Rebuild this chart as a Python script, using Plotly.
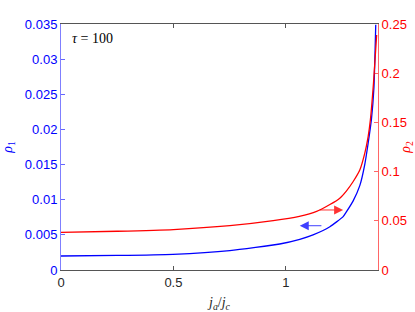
import plotly.graph_objects as go

# ---- data ----
x_blue = [0.0, 0.25, 0.498, 0.751, 0.973, 1.062, 1.121, 1.196, 1.255, 1.27, 1.299, 1.329, 1.351, 1.366, 1.381, 1.392, 1.40]
rho1 = [0.00199, 0.00207, 0.00223, 0.00275, 0.0037, 0.00437, 0.0050, 0.00616, 0.0076, 0.0083, 0.0098, 0.0120, 0.0150, 0.0180, 0.0215, 0.0260, 0.0349]

x_red = [0.0, 0.25, 0.5, 0.751, 0.944, 1.06, 1.137, 1.196, 1.24, 1.27, 1.299, 1.329, 1.351, 1.366, 1.376, 1.39, 1.404]
rho2 = [0.0383, 0.0394, 0.0411, 0.045, 0.0501, 0.0545, 0.0595, 0.0665, 0.0730, 0.0805, 0.0897, 0.1016, 0.1186, 0.1354, 0.1524, 0.19, 0.2388]

y1_ticks = [0, 0.005, 0.01, 0.015, 0.02, 0.025, 0.03, 0.035]
y1_labels = ["0", "0.005", "0.01", "0.015", "0.02", "0.025", "0.03", "0.035"]
y2_ticks = [0, 0.05, 0.1, 0.15, 0.2, 0.25]
y2_labels = ["0", "0.05", "0.1", "0.15", "0.2", "0.25"]
x_ticks = [0, 0.5, 1]
x_labels = ["0", "0.5", "1"]

# arrows (tail -> head)
blue_arrow = dict(tail=(1.165, 0.0063), head=(1.062, 0.0063))
red_arrow = dict(tail=(1.144, 0.061), head=(1.255, 0.061))

SANS = "Liberation Sans, Arial, sans-serif"
SERIF = "Liberation Serif, DejaVu Serif, serif"

fig = go.Figure()
fig.add_trace(go.Scatter(x=x_blue, y=rho1, mode="lines",
                         line=dict(color="#0000ff", width=1.3, shape="spline", smoothing=0.5),
                         yaxis="y", showlegend=False, hoverinfo="skip"))
fig.add_trace(go.Scatter(x=x_red, y=rho2, mode="lines",
                         line=dict(color="#ff0000", width=1.3, shape="spline", smoothing=0.5),
                         yaxis="y2", showlegend=False, hoverinfo="skip"))

fig.update_layout(
    width=415, height=312,
    margin=dict(l=61, r=37, t=24, b=42),
    paper_bgcolor="white", plot_bgcolor="white",
    xaxis=dict(range=[0, 1.41], tickvals=x_ticks, ticktext=x_labels, automargin=False,
               ticks="inside", ticklen=4, tickcolor="#555555",
               showline=True, linecolor="#555555", linewidth=1, mirror="ticks",
               showgrid=False, zeroline=False,
               tickfont=dict(family=SANS, size=13, color="#262626"),
               title=dict(text="<i>j<sub>a</sub></i>/<i>j<sub>c</sub></i>",
                          font=dict(family=SERIF, size=14, color="#262626"))),
    yaxis=dict(range=[0, 0.035], tickvals=y1_ticks, ticktext=y1_labels, automargin=False,
               ticks="inside", ticklen=4, tickcolor="rgba(0,0,255,0.6)",
               showline=True, linecolor="rgba(0,0,255,0.5)", linewidth=1,
               showgrid=False, zeroline=False,
               tickfont=dict(family=SANS, size=13, color="#0000ff"),
               title=dict(text="<i>ρ</i><sub>1</sub>",
                          font=dict(family=SERIF, size=14, color="#0000ff"))),
    yaxis2=dict(range=[0, 0.25], tickvals=y2_ticks, ticktext=y2_labels, automargin=False,
                overlaying="y", side="right", anchor="x",
                ticks="inside", ticklen=4, tickcolor="rgba(255,0,0,0.6)",
                showline=True, linecolor="rgba(255,0,0,0.6)", linewidth=1,
                showgrid=False, zeroline=False,
                tickfont=dict(family=SANS, size=13, color="#ff0000"),
                title=dict(text="<i>ρ</i><sub>2</sub>",
                           font=dict(family=SERIF, size=14, color="#ff0000"))),
)

fig.add_annotation(x=blue_arrow["head"][0], y=blue_arrow["head"][1],
                   ax=blue_arrow["tail"][0], ay=blue_arrow["tail"][1],
                   xref="x", yref="y", axref="x", ayref="y",
                   showarrow=True, arrowhead=2, arrowsize=1.8, arrowwidth=1,
                   arrowcolor="rgba(0,0,255,0.75)", text="")
fig.add_annotation(x=red_arrow["head"][0], y=red_arrow["head"][1],
                   ax=red_arrow["tail"][0], ay=red_arrow["tail"][1],
                   xref="x", yref="y2", axref="x", ayref="y2",
                   showarrow=True, arrowhead=2, arrowsize=1.8, arrowwidth=1,
                   arrowcolor="rgba(255,0,0,0.8)", text="")

fig.add_annotation(x=0.04, y=0.0329, xref="x", yref="y", xanchor="left", yanchor="middle",
                   text="<i>τ</i> = 100", showarrow=False,
                   font=dict(family=SERIF, size=14, color="#000000"))

fig.write_html("out.html", config={"displayModeBar": False},
               post_script="document.body.style.margin='0';")
